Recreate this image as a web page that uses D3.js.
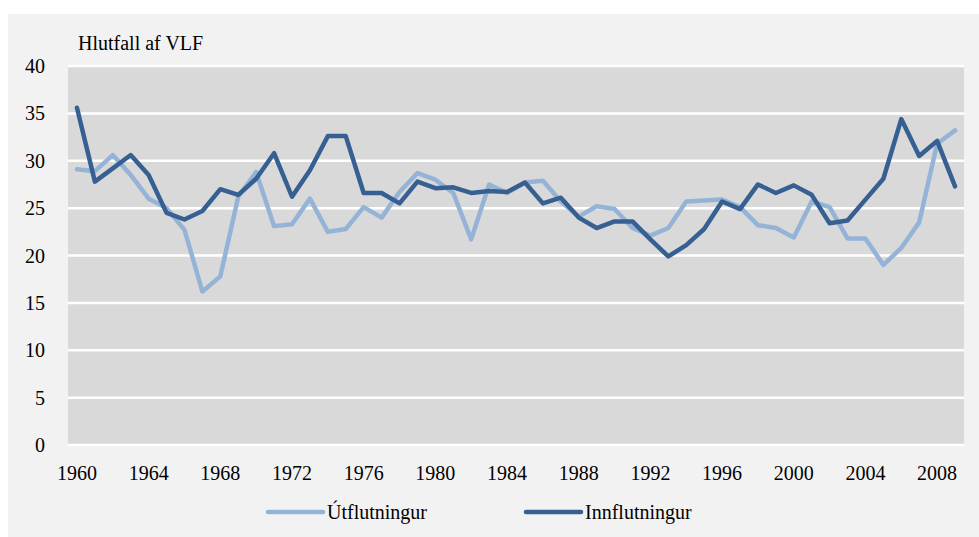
<!DOCTYPE html>
<html>
<head>
<meta charset="UTF-8">
<title>Hlutfall af VLF</title>
<script src="https://d3js.org/d3.v7.min.js"></script>
<style>
body { margin: 0; background: #ffffff; }
</style>
</head>

<body>

<figure class=chart style="margin:0"></figure>

<script type="text/javascript">

/* Data */
var years = d3.range(1960, 2010);
var exportsShare = [29.1, 28.9, 30.6, 28.5, 26.0, 25.0, 22.7, 16.2, 17.8, 26.2,
		28.8, 23.1, 23.3, 26.0, 22.5, 22.8, 25.1, 24.0, 26.7, 28.7,
		28.0, 26.6, 21.7, 27.5, 26.6, 27.7, 27.9, 25.7, 24.1, 25.2,
		24.9, 22.9, 22.1, 22.9, 25.7, 25.8, 25.9, 25.1, 23.2, 22.9,
		21.9, 25.7, 25.1, 21.8, 21.8, 19.0, 20.8, 23.5, 31.8, 33.2];
var importsShare = [35.6, 27.8, 29.2, 30.6, 28.5, 24.5, 23.8, 24.7, 27.0, 26.4,
		28.1, 30.8, 26.2, 29.0, 32.6, 32.6, 26.6, 26.6, 25.5, 27.8,
		27.1, 27.2, 26.6, 26.8, 26.7, 27.7, 25.5, 26.1, 24.0, 22.9,
		23.6, 23.6, 21.7, 19.9, 21.1, 22.8, 25.7, 24.9, 27.5, 26.6,
		27.4, 26.4, 23.4, 23.7, 25.9, 28.1, 34.4, 30.5, 32.1, 27.3];
var seriesNames = ['Útflutningur', 'Innflutningur'];
var yTicks = [0, 5, 10, 15, 20, 25, 30, 35, 40];
var xTickYears = [1960, 1964, 1968, 1972, 1976, 1980, 1984, 1988, 1992, 1996, 2000, 2004, 2008];
var yTitle = 'Hlutfall af VLF';

/* Global variables */
var W = 979, H = 537
var plot = {left: 68, right: 964, top: 66, bottom: 445}
var colors = ['#95b3d7', '#376092']
var FONT = '"Liberation Serif", "Times New Roman", Times, "DejaVu Serif", serif'

var x = d3.scalePoint()
	.domain(years)
	.range([plot.left, plot.right])
	.padding(0.5)
var y = d3.scaleLinear()
	.domain([0, 40])
	.range([plot.bottom, plot.top])

/* Functions */

function draw_canvas() {
	var svg = d3.select('figure')
		.append('svg')
		.attr('width', W)
		.attr('height', H)
		.attr('font-family', FONT)

	svg.append('rect')
		.attr('x', 8)
		.attr('y', 14)
		.attr('width', W - 8)
		.attr('height', H - 14)
		.style('fill', '#f2f2f2')

	svg.append('rect')
		.attr('x', plot.left)
		.attr('y', plot.top)
		.attr('width', plot.right - plot.left)
		.attr('height', plot.bottom - plot.top)
		.style('fill', '#d9d9d9')
}

function draw_axes() {
	var svg = d3.select('svg')

	// white gridlines
	svg.append('g')
		.selectAll('line')
		.data(yTicks)
		.enter()
		.append('line')
		.attr('x1', plot.left)
		.attr('x2', plot.right)
		.attr('y1', function(d) { return y(d); })
		.attr('y2', function(d) { return y(d); })
		.style('stroke', '#ffffff')
		.style('stroke-width', 2.5)

	svg.append('g')
		.selectAll('text')
		.data(yTicks)
		.enter()
		.append('text')
		.attr('x', 45)
		.attr('y', function(d) { return y(d) + 7; })
		.attr('text-anchor', 'end')
		.style('font-family', FONT)
		.style('font-size', '20px')
		.text(function(d) { return d; })

	svg.append('g')
		.selectAll('text')
		.data(xTickYears)
		.enter()
		.append('text')
		.attr('x', function(d) { return x(d); })
		.attr('y', 480)
		.attr('text-anchor', 'middle')
		.style('font-family', FONT)
		.style('font-size', '20px')
		.text(function(d) { return d; })

	svg.append('text')
		.attr('x', 78)
		.attr('y', 50)
		.style('font-family', FONT)
		.style('font-size', '20px')
		.text(yTitle)
}

function draw_lines() {
	var svg = d3.select('svg')
	var line = d3.line()
		.x(function(d, i) { return x(years[i]); })
		.y(function(d) { return y(d); })

	;[exportsShare, importsShare].forEach(function(s, k) {
		svg.append('path')
			.attr('d', line(s))
			.style('fill', 'none')
			.style('stroke', colors[k])
			.style('stroke-width', 4.5)
			.style('stroke-linejoin', 'round')
			.style('stroke-linecap', 'round')
	})
}

function draw_legend() {
	var svg = d3.select('svg')
	var lx = [268, 526]	// start of each legend line
	var g = svg.append('g')
		.selectAll('g')
		.data(seriesNames)
		.enter()
		.append('g')

	g.append('line')
		.attr('x1', function(d, i) { return lx[i]; })
		.attr('x2', function(d, i) { return lx[i] + 55; })
		.attr('y1', 512)
		.attr('y2', 512)
		.style('stroke', function(d, i) { return colors[i]; })
		.style('stroke-width', 4.5)
		.style('stroke-linecap', 'round')

	g.append('text')
		.attr('x', function(d, i) { return lx[i] + 59; })
		.attr('y', 519)
		.style('font-family', FONT)
		.style('font-size', '20px')
		.text(function(d) { return d; })
}

/* Main code */
draw_canvas()
draw_axes()
draw_lines()
draw_legend()

</script>

</body>

</html>
